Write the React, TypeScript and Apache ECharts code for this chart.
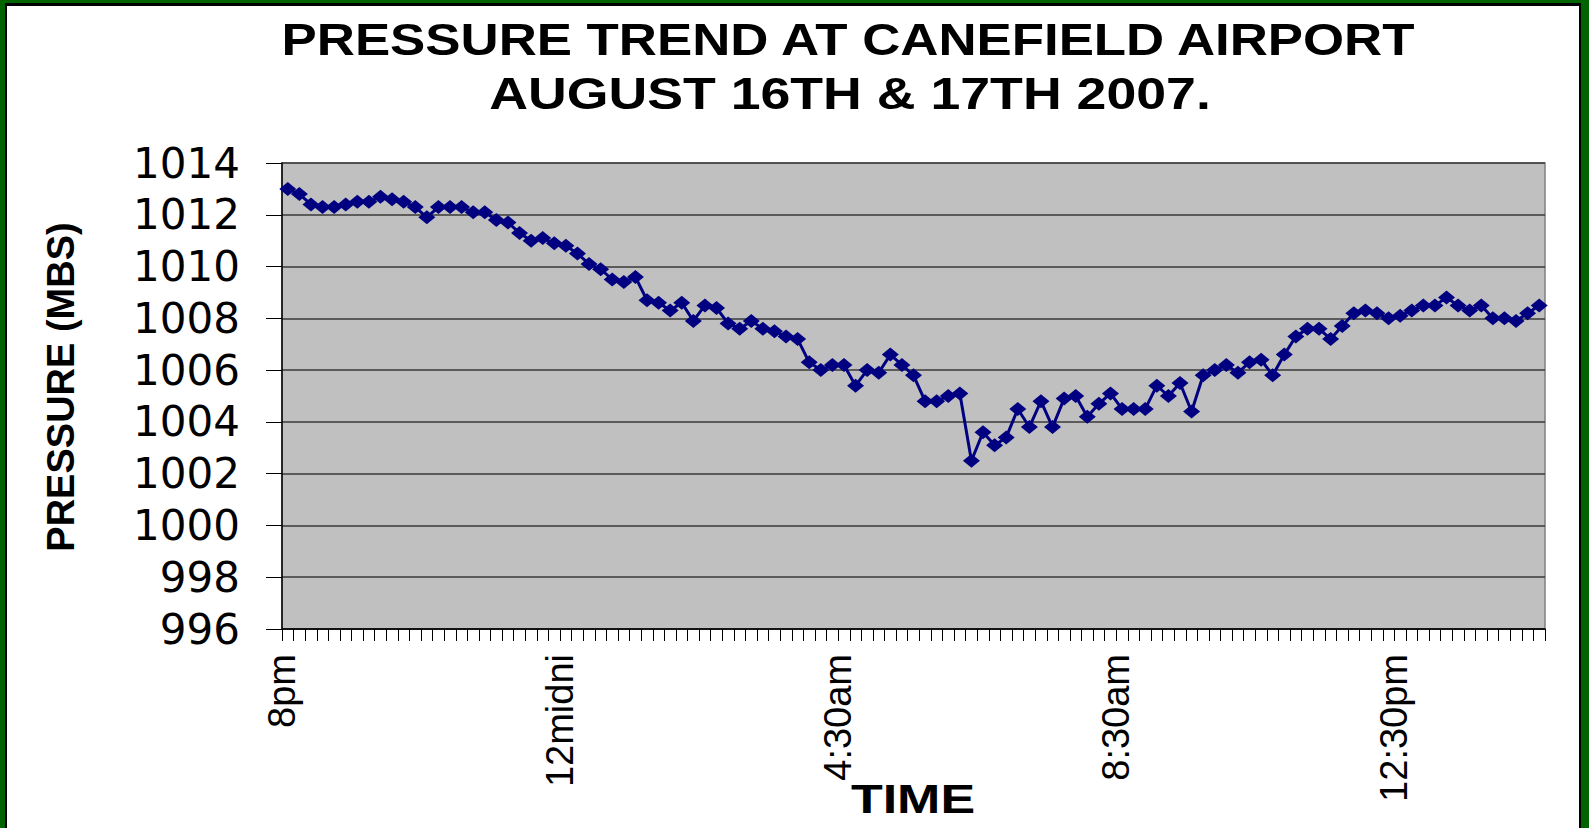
import React, { useEffect, useRef } from "react";
import * as echarts from "echarts";

// Pressure readings (mb), one per reading, 8pm Aug 16 to ~5pm Aug 17
const PRESSURE_MBS = [
  1013.0, 1012.8, 1012.4, 1012.3, 1012.3, 1012.4, 1012.5, 1012.5, 1012.7, 1012.6,
  1012.5, 1012.3, 1011.9, 1012.3, 1012.3, 1012.3, 1012.1, 1012.1, 1011.8, 1011.7,
  1011.3, 1011.0, 1011.1, 1010.9, 1010.8, 1010.5, 1010.1, 1009.9, 1009.5, 1009.4,
  1009.6, 1008.7, 1008.6, 1008.3, 1008.6, 1007.9, 1008.5, 1008.4, 1007.8, 1007.6,
  1007.9, 1007.6, 1007.5, 1007.3, 1007.2, 1006.3, 1006.0, 1006.2, 1006.2, 1005.4,
  1006.0, 1005.9, 1006.6, 1006.2, 1005.8, 1004.8, 1004.8, 1005.0, 1005.1, 1002.5,
  1003.6, 1003.1, 1003.4, 1004.5, 1003.8, 1004.8, 1003.8, 1004.9, 1005.0, 1004.2,
  1004.7, 1005.1, 1004.5, 1004.5, 1004.5, 1005.4, 1005.0, 1005.5, 1004.4, 1005.8,
  1006.0, 1006.2, 1005.9, 1006.3, 1006.4, 1005.8, 1006.6, 1007.3, 1007.6, 1007.6,
  1007.2, 1007.7, 1008.2, 1008.3, 1008.2, 1008.0, 1008.1, 1008.3, 1008.5, 1008.5,
  1008.8, 1008.5, 1008.3, 1008.5, 1008.0, 1008.0, 1007.9, 1008.2, 1008.5,
];

// Time labels and the reading boundary (tick) each one sits on
const TIME_LABELS = ["8pm", "12midni", "4:30am", "8:30am", "12:30pm"];
const TIME_LABEL_BOUNDARIES = [0, 24, 48, 72, 96];

// Pressure axis
const Y_MIN = 996;
const Y_MAX = 1014;
const Y_STEP = 2;

const TITLE_LINES = ["PRESSURE TREND AT CANEFIELD AIRPORT", "AUGUST 16TH & 17TH 2007."];
const X_TITLE = "TIME";
const Y_TITLE = "PRESSURE (MBS)";

export default function App() {
  const ref = useRef<HTMLDivElement | null>(null);

  useEffect(() => {
    if (!ref.current) return;
    const chart = echarts.init(ref.current, null, { renderer: "svg" });

    const readingCategories = PRESSURE_MBS.map((_, i) => String(i));
    const boundaryCategories: string[] = [];
    for (let i = 0; i <= PRESSURE_MBS.length; i++) {
      const k = TIME_LABEL_BOUNDARIES.indexOf(i);
      boundaryCategories.push(k >= 0 ? TIME_LABELS[k] : "");
    }

    const arial = '"Liberation Sans", Arial, sans-serif';

    chart.setOption({
      animation: false,
      grid: {
        left: 282,
        top: 163,
        right: 44,
        bottom: 199,
        show: true,
        backgroundColor: "#C0C0C0",
        borderColor: "#808080",
        borderWidth: 1.5,
      },
      xAxis: [
        {
          type: "category",
          data: readingCategories,
          boundaryGap: true,
          position: "bottom",
          axisLine: { show: true, lineStyle: { color: "#000", width: 1.5 } },
          axisTick: { show: true, interval: 0, length: 12, lineStyle: { color: "#000", width: 1 } },
          axisLabel: { show: false },
          splitLine: { show: false },
        },
        {
          type: "category",
          data: boundaryCategories,
          boundaryGap: false,
          position: "bottom",
          axisLine: { show: false },
          axisTick: { show: false },
          splitLine: { show: false },
          axisLabel: {
            show: true,
            interval: 0,
            rotate: 90,
            margin: 25,
            fontSize: 38,
            fontFamily: arial,
            color: "#000",
          },
        },
      ],
      yAxis: {
        type: "value",
        min: Y_MIN,
        max: Y_MAX,
        interval: Y_STEP,
        axisLine: { show: true, lineStyle: { color: "#000", width: 1.5 } },
        axisTick: { show: true, length: 16, lineStyle: { color: "#000", width: 1 } },
        axisLabel: {
          margin: 42,
          fontSize: 42,
          fontFamily: '"DejaVu Sans", sans-serif',
          color: "#000",
          formatter: (v: number) => String(v),
        },
        splitLine: { show: true, lineStyle: { color: "#3a3a3a", width: 1.5 } },
      },
      series: [
        {
          type: "line",
          xAxisIndex: 0,
          data: PRESSURE_MBS,
          symbol: "diamond",
          symbolSize: [17, 14],
          showSymbol: true,
          showAllSymbol: true,
          lineStyle: { color: "#000080", width: 3 },
          itemStyle: { color: "#000080", borderWidth: 0 },
          z: 5,
        },
      ],
      graphic: [
        {
          type: "text",
          x: 848,
          y: 40,
          scaleX: 1.2,
          style: {
            text: TITLE_LINES[0],
            font: `bold 44px ${arial}`,
            fill: "#000",
            textAlign: "center",
            textVerticalAlign: "middle",
          },
        },
        {
          type: "text",
          x: 850,
          y: 94,
          scaleX: 1.22,
          style: {
            text: TITLE_LINES[1],
            font: `bold 44px ${arial}`,
            fill: "#000",
            textAlign: "center",
            textVerticalAlign: "middle",
          },
        },
        {
          type: "text",
          x: 913,
          y: 799,
          scaleX: 1.3,
          style: {
            text: X_TITLE,
            font: `bold 40px ${arial}`,
            fill: "#000",
            textAlign: "center",
            textVerticalAlign: "middle",
          },
        },
        {
          type: "text",
          x: 61,
          y: 387,
          rotation: Math.PI / 2,
          style: {
            text: Y_TITLE,
            font: `bold 38px ${arial}`,
            fill: "#000",
            textAlign: "center",
            textVerticalAlign: "middle",
          },
        },
      ],
    });

    return () => chart.dispose();
  }, []);

  return (
    <div style={{ position: "fixed", left: 0, top: 0, width: 1589, height: 828, background: "#006400", overflow: "hidden" }}>
      <div
        style={{
          position: "absolute",
          left: 5,
          top: 3,
          width: 1589 - 5 - 8,
          height: 828,
          boxSizing: "border-box",
          background: "#fff",
          borderTop: "3px solid #000",
          borderLeft: "2px solid #000",
          borderRight: "2px solid #000",
        }}
      />
      <div ref={ref} style={{ position: "absolute", left: 0, top: 0, width: 1589, height: 828 }} />
    </div>
  );
}
